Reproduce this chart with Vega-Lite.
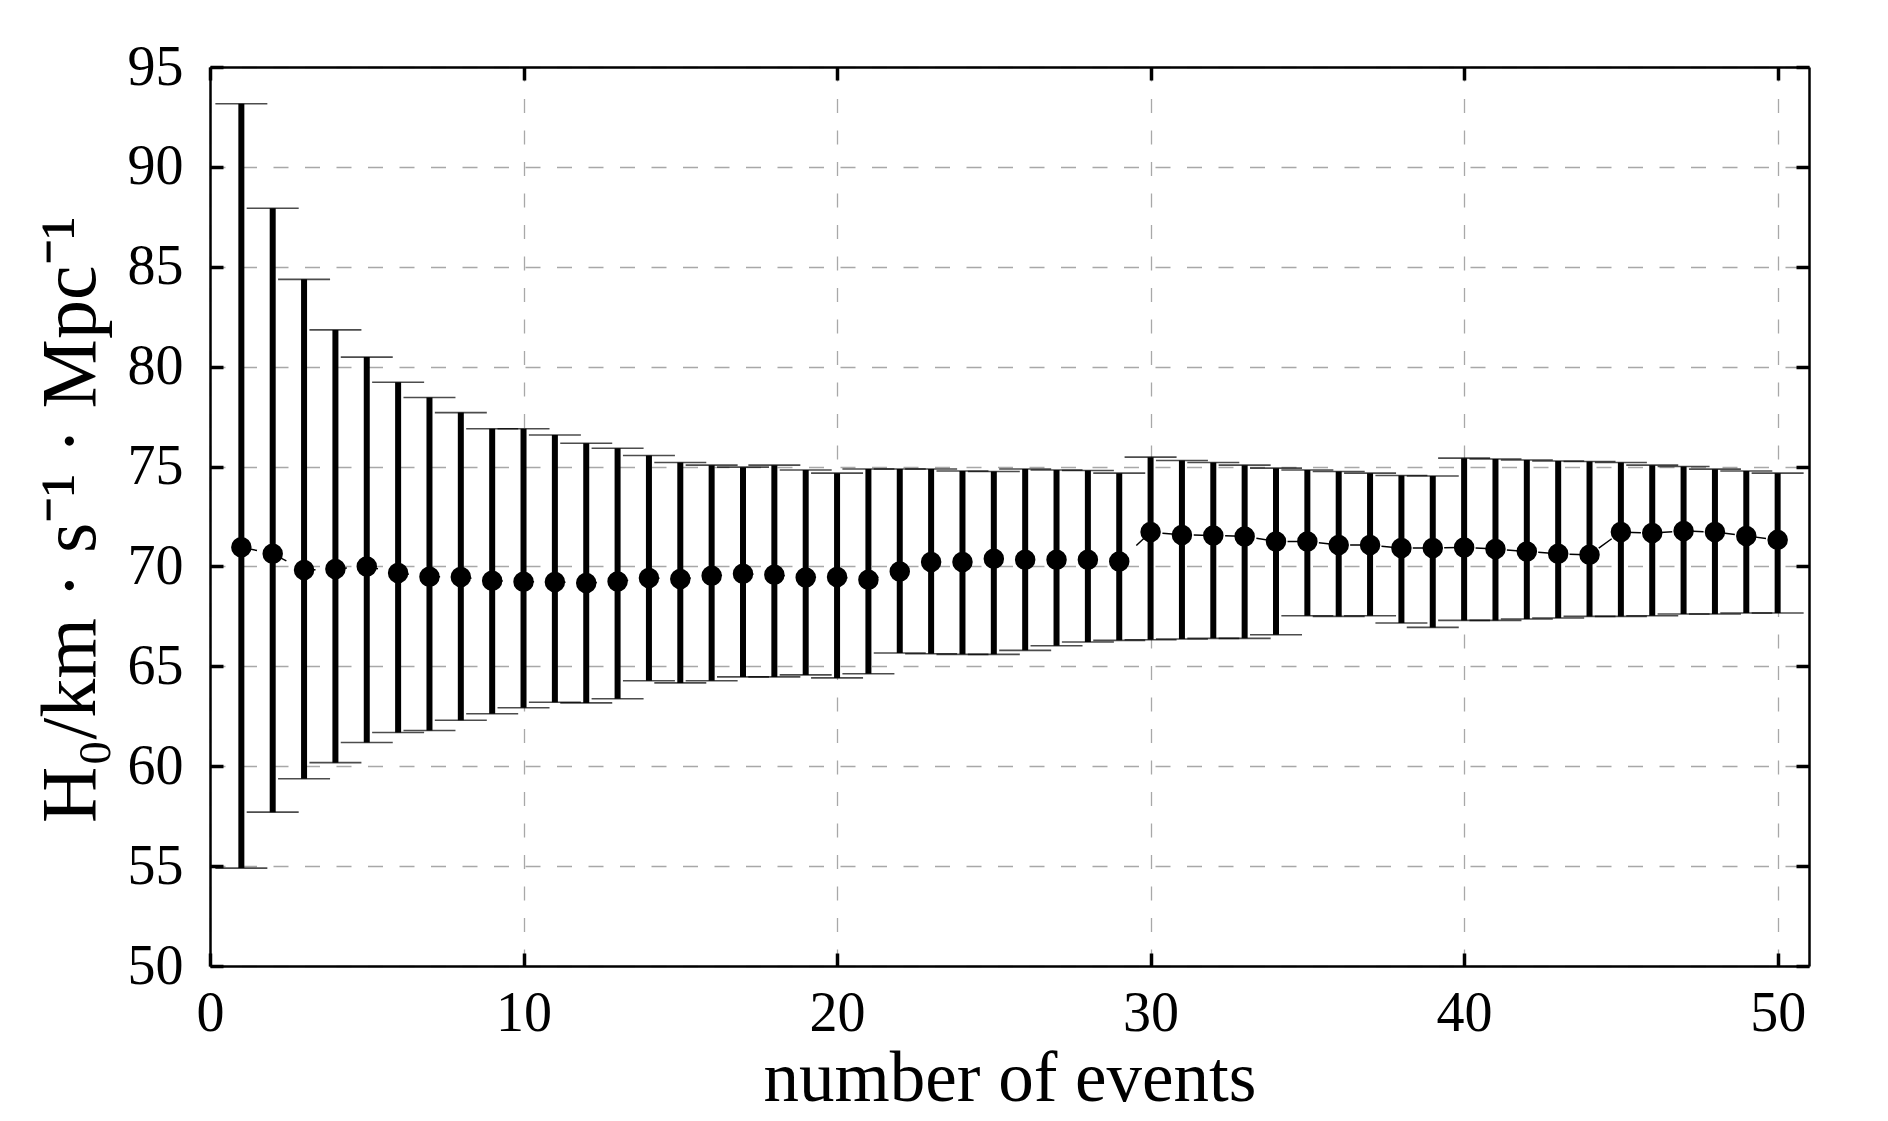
{
  "$schema": "https://vega.github.io/schema/vega-lite/v6.json",
  "width": 1599,
  "height": 899,
  "autosize": {"type": "none"},
  "padding": {"left": 210, "top": 67, "right": 79, "bottom": 155},
  "background": "white",
  "config": {
    "view": {"stroke": null},
    "axis": {
      "domainColor": "black",
      "domainWidth": 2.5,
      "tickColor": "black",
      "tickWidth": 3.5,
      "tickSize": -13,
      "labelFont": "Liberation Serif",
      "labelFontSize": 56,
      "labelColor": "black",
      "labelFlush": false,
      "labelOverlap": false,
      "gridColor": "#a8a8a8",
      "gridWidth": 1.3,
      "titleFont": "Liberation Serif",
      "titleFontWeight": "normal",
      "titleColor": "black"
    }
  },
  "data": {
    "values": [
      {"n": 1, "h": 70.96, "lo": 54.9, "hi": 93.16},
      {"n": 2, "h": 70.63, "lo": 57.7, "hi": 87.93},
      {"n": 3, "h": 69.82, "lo": 59.37, "hi": 84.37},
      {"n": 4, "h": 69.87, "lo": 60.18, "hi": 81.84},
      {"n": 5, "h": 70.0, "lo": 61.19, "hi": 80.48},
      {"n": 6, "h": 69.67, "lo": 61.69, "hi": 79.22},
      {"n": 7, "h": 69.49, "lo": 61.79, "hi": 78.46},
      {"n": 8, "h": 69.47, "lo": 62.3, "hi": 77.7},
      {"n": 9, "h": 69.29, "lo": 62.63, "hi": 76.89},
      {"n": 10, "h": 69.24, "lo": 62.93, "hi": 76.89},
      {"n": 11, "h": 69.22, "lo": 63.2, "hi": 76.58},
      {"n": 12, "h": 69.17, "lo": 63.17, "hi": 76.17},
      {"n": 13, "h": 69.25, "lo": 63.38, "hi": 75.92},
      {"n": 14, "h": 69.42, "lo": 64.28, "hi": 75.55},
      {"n": 15, "h": 69.37, "lo": 64.17, "hi": 75.2},
      {"n": 16, "h": 69.53, "lo": 64.28, "hi": 75.07},
      {"n": 17, "h": 69.63, "lo": 64.47, "hi": 74.97},
      {"n": 18, "h": 69.58, "lo": 64.47, "hi": 75.07},
      {"n": 19, "h": 69.45, "lo": 64.57, "hi": 74.83},
      {"n": 20, "h": 69.47, "lo": 64.42, "hi": 74.67},
      {"n": 21, "h": 69.33, "lo": 64.63, "hi": 74.88},
      {"n": 22, "h": 69.75, "lo": 65.67, "hi": 74.88},
      {"n": 23, "h": 70.22, "lo": 65.63, "hi": 74.88},
      {"n": 24, "h": 70.22, "lo": 65.6, "hi": 74.78},
      {"n": 25, "h": 70.38, "lo": 65.6, "hi": 74.75},
      {"n": 26, "h": 70.33, "lo": 65.8, "hi": 74.88},
      {"n": 27, "h": 70.33, "lo": 66.03, "hi": 74.83},
      {"n": 28, "h": 70.33, "lo": 66.22, "hi": 74.8},
      {"n": 29, "h": 70.25, "lo": 66.3, "hi": 74.67},
      {"n": 30, "h": 71.72, "lo": 66.33, "hi": 75.47},
      {"n": 31, "h": 71.58, "lo": 66.37, "hi": 75.3},
      {"n": 32, "h": 71.55, "lo": 66.4, "hi": 75.2},
      {"n": 33, "h": 71.5, "lo": 66.4, "hi": 75.07},
      {"n": 34, "h": 71.25, "lo": 66.58, "hi": 74.92},
      {"n": 35, "h": 71.25, "lo": 67.53, "hi": 74.83},
      {"n": 36, "h": 71.07, "lo": 67.5, "hi": 74.75},
      {"n": 37, "h": 71.07, "lo": 67.53, "hi": 74.67},
      {"n": 38, "h": 70.92, "lo": 67.17, "hi": 74.55},
      {"n": 39, "h": 70.92, "lo": 66.95, "hi": 74.53},
      {"n": 40, "h": 70.95, "lo": 67.3, "hi": 75.42},
      {"n": 41, "h": 70.87, "lo": 67.3, "hi": 75.38},
      {"n": 42, "h": 70.75, "lo": 67.37, "hi": 75.33},
      {"n": 43, "h": 70.63, "lo": 67.42, "hi": 75.28},
      {"n": 44, "h": 70.58, "lo": 67.5, "hi": 75.25},
      {"n": 45, "h": 71.72, "lo": 67.5, "hi": 75.2},
      {"n": 46, "h": 71.67, "lo": 67.53, "hi": 75.07},
      {"n": 47, "h": 71.78, "lo": 67.62, "hi": 75.0},
      {"n": 48, "h": 71.72, "lo": 67.62, "hi": 74.87},
      {"n": 49, "h": 71.53, "lo": 67.67, "hi": 74.78},
      {"n": 50, "h": 71.33, "lo": 67.67, "hi": 74.67}
    ]
  },
  "layer": [
    {
      "mark": {"type": "rule", "color": "black", "strokeWidth": 6},
      "encoding": {
        "x": {
          "field": "n", "type": "quantitative",
          "scale": {"domain": [0, 51], "nice": false, "zero": false},
          "axis": {
            "orient": "bottom",
            "values": [0, 10, 20, 30, 40, 50],
            "grid": true,
            "gridDash": [14, 17.5],
            "labelPadding": 33,
            "title": "number of events",
            "titleFontSize": 71,
            "titleX": 799.5,
            "titleY": 134,
            "titleBaseline": "alphabetic",
            "titleAlign": "center"
          }
        },
        "y": {
          "field": "lo", "type": "quantitative",
          "scale": {"domain": [50, 95], "nice": false, "zero": false},
          "axis": {
            "orient": "left",
            "values": [50, 55, 60, 65, 70, 75, 80, 85, 90, 95],
            "grid": true,
            "gridDash": [15, 16.5],
            "labelPadding": 40,
            "labelBaseline": "middle",
            "title": "H₀/km · s⁻¹ · Mpc⁻¹",
            "titleFontSize": 78,
            "titleAngle": -90,
            "titleX": -116,
            "titleY": 452,
            "titleBaseline": "alphabetic",
            "titleAlign": "center"
          }
        },
        "y2": {"field": "hi"}
      }
    },
    {
      "mark": {"type": "tick", "orient": "horizontal", "color": "black", "size": 52, "thickness": 1.6},
      "encoding": {
        "x": {"field": "n", "type": "quantitative", "axis": null},
        "y": {"field": "lo", "type": "quantitative", "axis": null}
      }
    },
    {
      "mark": {"type": "tick", "orient": "horizontal", "color": "black", "size": 52, "thickness": 1.6},
      "encoding": {
        "x": {"field": "n", "type": "quantitative", "axis": null},
        "y": {"field": "hi", "type": "quantitative", "axis": null}
      }
    },
    {
      "mark": {"type": "line", "color": "black", "strokeWidth": 1.5, "strokeDash": [16, 15.4]},
      "encoding": {
        "x": {"field": "n", "type": "quantitative", "axis": null},
        "y": {"field": "h", "type": "quantitative", "axis": null}
      }
    },
    {
      "mark": {"type": "point", "shape": "circle", "filled": true, "color": "black", "opacity": 1, "size": 420},
      "encoding": {
        "x": {
          "field": "n", "type": "quantitative",
          "axis": {"orient": "top", "values": [0, 10, 20, 30, 40, 50], "labels": false, "grid": false, "title": null}
        },
        "y": {
          "field": "h", "type": "quantitative",
          "axis": {"orient": "right", "values": [50, 55, 60, 65, 70, 75, 80, 85, 90, 95], "labels": false, "grid": false, "title": null}
        }
      }
    }
  ],
  "resolve": {"axis": {"x": "independent", "y": "independent"}}
}
